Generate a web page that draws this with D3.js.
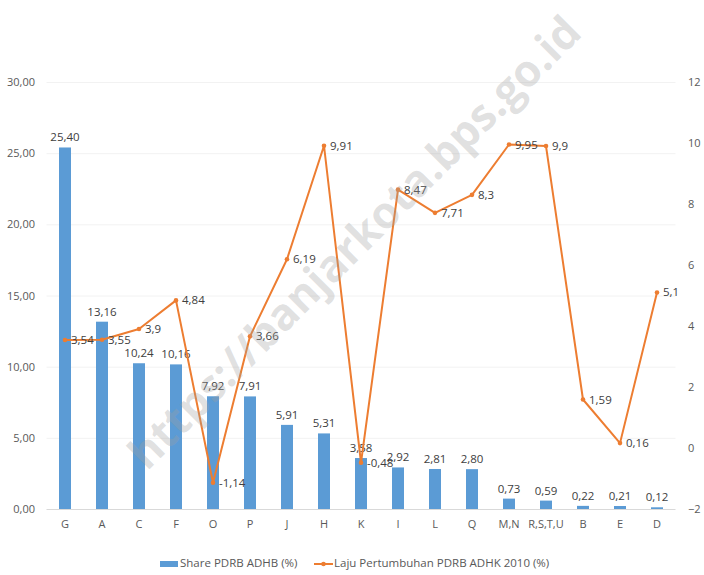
<!DOCTYPE html>
<html>
  <head>
    <meta charset="utf-8"/>
    <title>Share dan Laju Pertumbuhan PDRB</title>
    <style type="text/css">
body {
  margin: 0;
  background: #fff;
}
svg text {
  font-family: "Open Sans", sans-serif;
}
.tick text {
  fill: #595959;
  font-size: 11px;
}
.lbl {
  fill: #404040;
  font-size: 11.5px;
}
    </style>
  </head>
  <body>
    <div id="chart"></div>
    <script src="https://cdn.jsdelivr.net/npm/d3@7"></script>
    <script>
    const categories = ["G", "A", "C", "F", "O", "P", "J", "H", "K", "I", "L", "Q", "M,N", "R,S,T,U", "B", "E", "D"];
    const share = [25.40, 13.16, 10.24, 10.16, 7.92, 7.91, 5.91, 5.31, 3.58, 2.92, 2.81, 2.80, 0.73, 0.59, 0.22, 0.21, 0.12];
    const growth = [3.54, 3.55, 3.9, 4.84, -1.14, 3.66, 6.19, 9.91, -0.48, 8.47, 7.71, 8.3, 9.95, 9.9, 1.59, 0.16, 5.1];
    const leftTicks = [0, 5, 10, 15, 20, 25, 30];
    const rightTicks = [-2, 0, 2, 4, 6, 8, 10, 12];

    const width = 704, height = 575;
    const blue = "#5b9bd5", orange = "#ed7d31";
    const comma = s => String(s).replace(".", ",");

    const svg = d3.select("#chart").append("svg")
        .attr("width", width)
        .attr("height", height);

    const x = d3.scaleBand().domain(categories).range([46.5, 675.5]);
    const yL = d3.scaleLinear().domain([0, 30]).range([509, 82]);
    const yR = d3.scaleLinear().domain([-2, 12]).range([509, 82]);

    // gridlines
    svg.append("g").selectAll("line")
        .data(leftTicks)
        .enter().append("line")
        .attr("x1", 46.5).attr("x2", 675.5)
        .attr("y1", d => yL(d) + 0.5).attr("y2", d => yL(d) + 0.5)
        .attr("stroke", d => d === 0 ? "#d9d9d9" : "#f2f2f2")
        .attr("stroke-width", 1);

    const gl = svg.append("g")
        .attr("transform", "translate(35,0)")
        .call(d3.axisLeft(yL).tickValues(leftTicks).tickSize(0).tickPadding(0)
          .tickFormat(d => d3.format(".2f")(d).replace(".", ",")));
    gl.select(".domain").remove();

    const gr = svg.append("g")
        .attr("transform", "translate(688,0)")
        .call(d3.axisRight(yR).tickValues(rightTicks).tickSize(0).tickPadding(0));
    gr.select(".domain").remove();

    const gx = svg.append("g")
        .attr("transform", "translate(0,520)")
        .call(d3.axisBottom(x).tickSize(0).tickPadding(0));
    gx.select(".domain").remove();

    // bars
    const bw = 12;
    svg.append("g").selectAll("rect")
        .data(share)
        .enter().append("rect")
        .attr("x", (d, i) => x(categories[i]) + x.bandwidth() / 2 - bw / 2)
        .attr("y", d => yL(d))
        .attr("width", bw)
        .attr("height", d => yL(0) - yL(d))
        .attr("fill", blue);

    svg.append("g").selectAll("text")
        .data(share)
        .enter().append("text")
        .attr("class", "lbl")
        .attr("x", (d, i) => x(categories[i]) + x.bandwidth() / 2)
        .attr("y", d => yL(d) - 6)
        .attr("text-anchor", "middle")
        .text(d => d3.format(".2f")(d).replace(".", ","));

    // line
    const cx = i => x(categories[i]) + x.bandwidth() / 2;
    const line = d3.line()
        .x((d, i) => cx(i))
        .y(d => yR(d));

    svg.append("path")
        .datum(growth)
        .attr("d", line)
        .attr("fill", "none")
        .attr("stroke", orange)
        .attr("stroke-width", 2)
        .attr("stroke-linejoin", "round");

    svg.append("g").selectAll("circle")
        .data(growth)
        .enter().append("circle")
        .attr("cx", (d, i) => cx(i))
        .attr("cy", d => yR(d))
        .attr("r", 2.3)
        .attr("fill", orange);

    svg.append("g").selectAll("text")
        .data(growth)
        .enter().append("text")
        .attr("class", "lbl")
        .attr("x", (d, i) => cx(i) + 6)
        .attr("y", d => yR(d) + 4)
        .text(d => comma(d));

    // watermark, semi-transparent on top
    svg.append("text")
        .attr("transform", "translate(357,245) rotate(-45)")
        .attr("text-anchor", "middle")
        .attr("dominant-baseline", "middle")
        .style("font-weight", "bold")
        .style("font-size", "44px")
        .attr("fill", "#a0a0a0")
        .attr("fill-opacity", 0.33)
        .text("https://banjarkota.bps.go.id");

    // legend
    const lg = svg.append("g").attr("transform", "translate(0,567)");
    lg.append("rect").attr("x", 160).attr("y", -6).attr("width", 18).attr("height", 6).attr("fill", blue);
    lg.append("text").attr("class", "lbl").attr("x", 180).attr("y", 0).style("fill", "#595959").text("Share PDRB ADHB (%)");
    lg.append("line").attr("x1", 314).attr("x2", 333).attr("y1", -3).attr("y2", -3)
        .attr("stroke", orange).attr("stroke-width", 2);
    lg.append("circle").attr("cx", 323.5).attr("cy", -3).attr("r", 2.3).attr("fill", orange);
    lg.append("text").attr("class", "lbl").attr("x", 334).attr("y", 0).style("fill", "#595959").text("Laju Pertumbuhan PDRB ADHK 2010 (%)");
    </script>
  </body>
</html>
